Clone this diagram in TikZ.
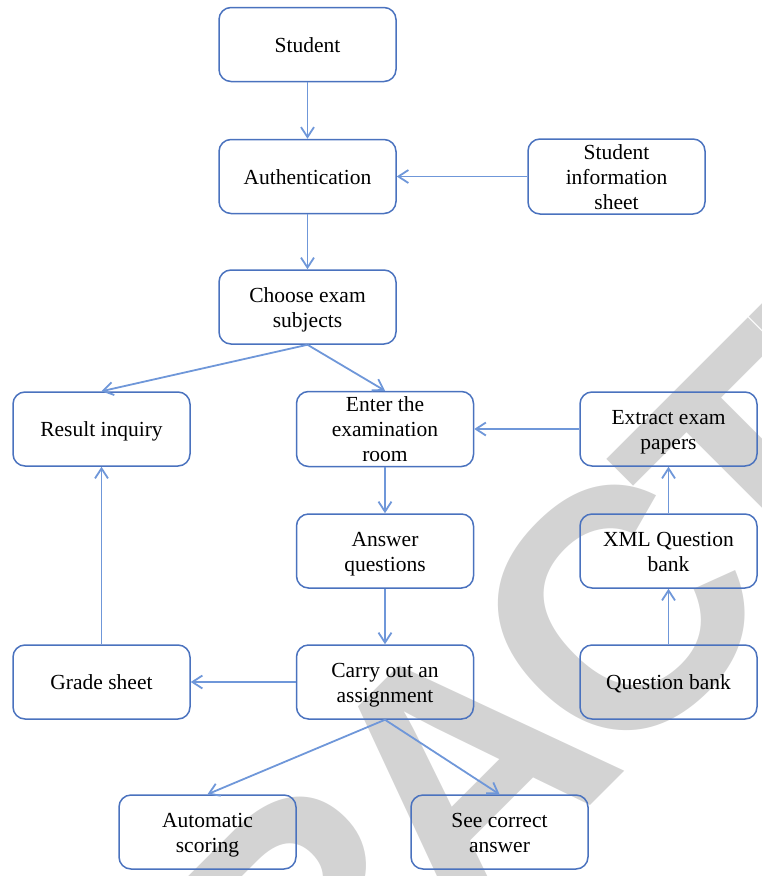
\documentclass[tikz,border=0pt]{standalone}
\usepackage{fontspec}
\setmainfont{Liberation Serif}
\newfontfamily\wmfont{Liberation Sans Bold}[LetterSpace=-7.4]
\usetikzlibrary{arrows.meta}
\definecolor{boxblue}{HTML}{4A72BE}
\definecolor{linkblue}{HTML}{6F97D9}
\definecolor{wmgray}{HTML}{D3D3D3}
\newcommand{\bt}[1]{\raisebox{-2.5pt}[\height][\depth]{\begin{tabular}{@{}c@{}}#1\end{tabular}}}
\tikzset{
  box/.style={draw=boxblue, line width=1.5pt, rounded corners=12pt,
    minimum width=177pt, minimum height=74pt, align=center, inner sep=0pt,
    font=\fontsize{21.5}{25}\selectfont},
  link/.style={draw=linkblue, line width=1.8pt,
    -{Straight Barb[length=10pt,width=13pt]}},
  watermark/.style={anchor=base west, rotate=45, inner sep=0pt, text=wmgray,
    font=\wmfont\fontsize{340}{340}\selectfont}
}
\begin{document}
\begin{tikzpicture}[x=1pt,y=-1pt]
\useasboundingbox (0,0) rectangle (761,876);
\begin{scope}
  \clip (0,0) rectangle (761,876);
  \node[watermark] (wm) at (-126,1522.3) {RETRACTED};
\end{scope}

\node[box] (student) at (307.5,44.5) {\bt{Student}};
\node[box] (auth)    at (307.5,176.5) {\bt{Authentication}};
\node[box] (info)    at (616.5,176.5) {\bt{Student\\information\\sheet}};
\node[box] (choose)  at (307.5,307) {\bt{Choose exam\\subjects}};
\node[box] (result)  at (101.5,429) {\bt{Result inquiry}};
\node[box] (enter)   at (385,429) {\bt{Enter the\\examination\\room}};
\node[box] (extract) at (668.5,429) {\bt{Extract exam\\papers}};
\node[box] (answer)  at (385,551) {\bt{Answer\\questions}};
\node[box] (xml)     at (668.5,551) {\bt{XML Question\\bank}};
\node[box] (carry)   at (385,682) {\bt{Carry out an\\assignment}};
\node[box] (grade)   at (101.5,682) {\bt{Grade sheet}};
\node[box] (qbank)   at (668.5,682) {\bt{Question bank}};
\node[box] (auto)    at (207.5,832) {\bt{Automatic\\scoring}};
\node[box] (see)     at (499.5,832) {\bt{See correct\\answer}};

\draw[link] (student) -- (auth);
\draw[link] (info) -- (auth);
\draw[link] (auth) -- (choose);
\draw[link] (choose.south) -- (result.north);
\draw[link] (choose.south) -- (enter.north);
\draw[link] (extract) -- (enter);
\draw[link] (enter) -- (answer);
\draw[link] (answer) -- (carry);
\draw[link] (carry) -- (grade);
\draw[link] (grade) -- (result);
\draw[link] (xml) -- (extract);
\draw[link] (qbank) -- (xml);
\draw[link] (carry.south) -- (auto.north);
\draw[link] (carry.south) -- (see.north);
\end{tikzpicture}
\end{document}
